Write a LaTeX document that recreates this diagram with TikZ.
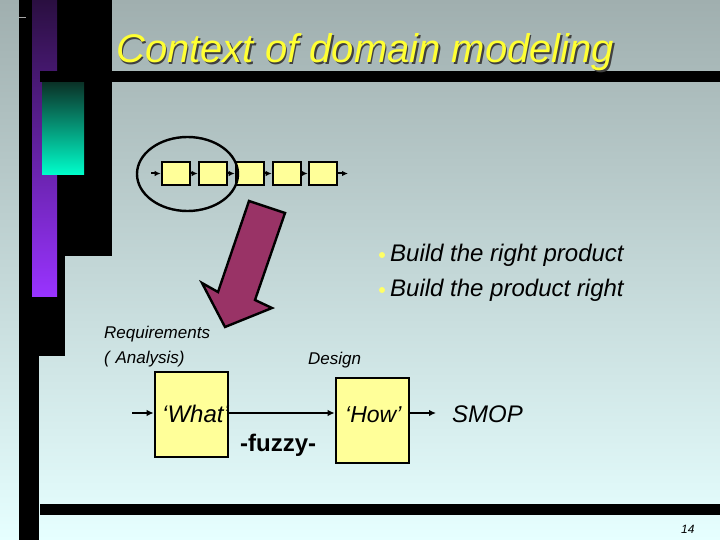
\documentclass[tikz,border=0pt]{standalone}
\usepackage{fontspec}
\setmainfont{Liberation Sans}
\usetikzlibrary{arrows.meta,shapes.geometric}
\definecolor{bgtop}{HTML}{A0AFAF}
\definecolor{bgbot}{HTML}{E6FFFF}
\definecolor{purtop}{HTML}{2A0F40}
\definecolor{purbot}{HTML}{9933FF}
\definecolor{teatop}{HTML}{0A3328}
\definecolor{teabot}{HTML}{00FFCC}
\definecolor{boxyellow}{HTML}{FFFF99}
\definecolor{arrowfill}{HTML}{993366}
\definecolor{titleyellow}{HTML}{FFFF33}
\definecolor{bulletyellow}{HTML}{FFFF66}
\tikzset{
  smallbox/.style={draw=black, line width=2.6pt, fill=boxyellow, minimum width=28, minimum height=23, inner sep=0pt},
  bigbox/.style={draw=black, line width=2.6pt, fill=boxyellow, minimum width=73, minimum height=85, inner sep=0pt},
  conn/.style={line width=2pt, -{Latex[length=6pt,width=5.5pt]}},
  bigconn/.style={line width=2.4pt, -{Latex[length=7pt,width=6.5pt]}},
  lbl/.style={inner sep=0pt, anchor=base west, text=black},
}
\begin{document}
\begin{tikzpicture}[x=1pt,y=-1pt]
\useasboundingbox (0,0) rectangle (720,540);
% background
\shade[top color=bgtop, bottom color=bgbot] (0,0) rectangle (720,540);
% black decoration at left
\fill[black] (19,0) rectangle (112,256);
\fill[black] (19,256) rectangle (65,356);
\fill[black] (19,356) rectangle (39,540);
\shade[top color=purtop, bottom color=purbot] (32,0) rectangle (57,296);
\fill[black] (40,71) rectangle (720,82);
\shade[top color=teatop, bottom color=teabot] (42,83) rectangle (84,175);
\draw[gray!70, line width=0.8pt] (19,17.5) -- (26,17.5);
\fill[black] (40,504) rectangle (720,515);
% title (with shadow)
\node[lbl, text=black!75, font=\fontsize{40}{48}\selectfont\itshape] (titleshadow) at (117.5,64.5) {Context of domain modeling};
\node[lbl, text=titleyellow, font=\fontsize{40}{48}\selectfont\itshape] (title) at (116,63) {Context of domain modeling};
% chain of small boxes
\node[smallbox] (b1) at (176,173.5) {};
\node[smallbox] (b2) at (213,173.5) {};
\node[smallbox] (b3) at (250,173.5) {};
\node[smallbox] (b4) at (287,173.5) {};
\node[smallbox] (b5) at (323,173.5) {};
\coordinate (cin) at (151,173.5);
\coordinate (cout) at (348,173.5);
\draw[conn] (cin) -- (b1);
\draw[conn] (b1) -- (b2);
\draw[conn] (b2) -- (b3);
\draw[conn] (b3) -- (b4);
\draw[conn] (b4) -- (b5);
\draw[conn] (b5) -- (cout);
\node[draw=black, line width=2.4pt, ellipse, minimum width=101, minimum height=74, inner sep=0pt] (zoomring) at (187.5,174) {};
% big arrow
\draw[line width=2.4pt, fill=arrowfill, line join=miter] (249,201) -- (285,213) -- (255,300) -- (272,308) -- (225,327) -- (202,283) -- (218,292) -- cycle;
% bullets
\fill[bulletyellow] (382,255) circle (3);
\fill[bulletyellow] (382,290) circle (3);
\node[lbl, font=\fontsize{24}{28}\selectfont\itshape] (bl1) at (390,261) {Build the right product};
\node[lbl, font=\fontsize{24}{28}\selectfont\itshape] (bl2) at (390,296) {Build the product right};
% labels
\node[lbl, font=\fontsize{17}{20}\selectfont\itshape] (req) at (104,338) {Requirements};
\node[lbl, font=\fontsize{17}{20}\selectfont\itshape] (ana) at (104,363) {(\,\,Analysis)};
\node[lbl, font=\fontsize{17}{20}\selectfont\itshape] (des) at (308,364) {Design};
% big boxes
\node[bigbox] (what) at (191.5,414.5) {};
\node[bigbox] (how) at (372.5,420.5) {};
\coordinate (win) at (132,413);
\coordinate (hout) at (436,413);
\draw[bigconn] (win) -- (win -| what.west);
\draw[bigconn] (what.east |- win) -- (how.west |- win);
\draw[bigconn] (how.east |- win) -- (hout);
\node[lbl, font=\fontsize{24}{28}\selectfont\itshape] (whatt) at (162,422) {‘What’};
\node[lbl, font=\fontsize{23}{28}\selectfont\itshape] (howt) at (345,422) {‘How’};
\node[lbl, font=\fontsize{24}{28}\selectfont\bfseries] (fuzzy) at (240,451) {-fuzzy-};
\node[lbl, font=\fontsize{24}{28}\selectfont\itshape] (smop) at (452,422) {SMOP};
\node[lbl, font=\fontsize{12}{14}\selectfont\itshape] (pg) at (681,533) {14};
\end{tikzpicture}
\end{document}
